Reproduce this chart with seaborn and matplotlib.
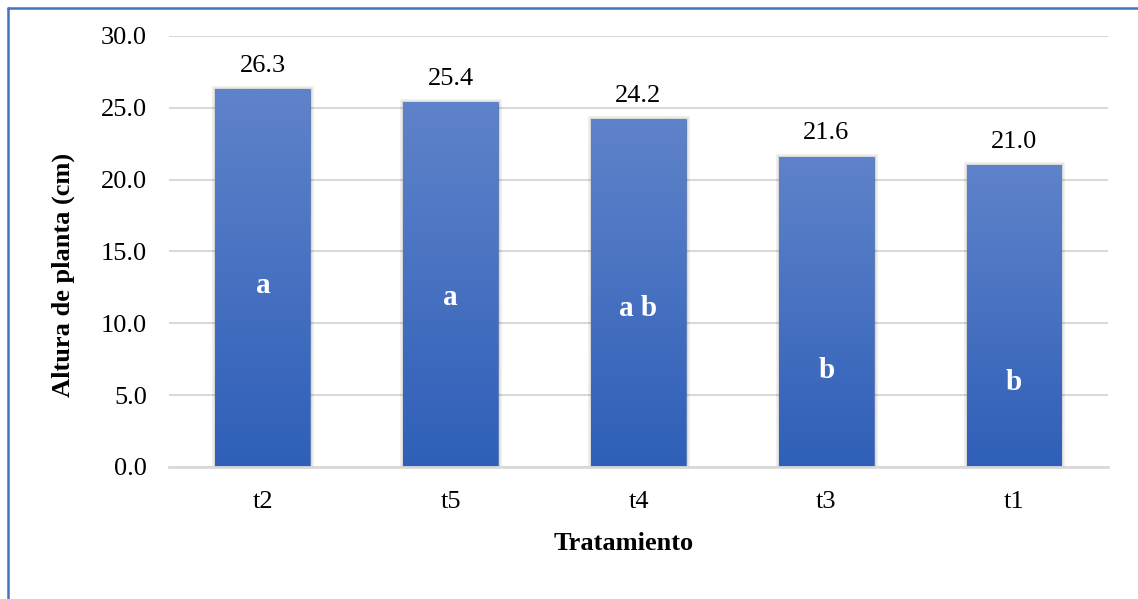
import numpy as np
import pandas as pd
import matplotlib
matplotlib.use("Agg")
import matplotlib.pyplot as plt
import matplotlib.patheffects as pe
from matplotlib.colors import LinearSegmentedColormap
from matplotlib.lines import Line2D
import seaborn as sns

# Plant height by treatment, with significance groups
tratamientos = ["t2", "t5", "t4", "t3", "t1"]
altura = [26.3, 25.4, 24.2, 21.6, 21.0]
grupos = ["a", "a", "a b", "b", "b"]
grupo_y = [12.6, 11.8, 11.0, 6.7, 5.9]
yticks = [0, 5, 10, 15, 20, 25, 30]

df = pd.DataFrame({"Tratamiento": tratamientos, "Altura": altura})

sns.set_theme(style="white")
plt.rcParams["font.family"] = ["Liberation Serif", "DejaVu Serif"]

fig = plt.figure(figsize=(11.38, 5.99), dpi=100)
ax = fig.add_axes([0.1485, 0.2204, 0.9736 - 0.1485, 0.9399 - 0.2204])

sns.barplot(data=df, x="Tratamiento", y="Altura", order=tratamientos,
            color="#4472c4", width=0.505, ax=ax, saturation=1)

cmap = LinearSegmentedColormap.from_list("bluegrad", ["#2f5fb8", "#5f83ca"])
grad = np.linspace(0, 1, 256).reshape(-1, 1)
for p in ax.patches:
    p.set_edgecolor("none")
    p.set_path_effects([pe.Stroke(linewidth=5, foreground=(0, 0, 0, 0.06)),
                        pe.Stroke(linewidth=2.5, foreground=(0, 0, 0, 0.10)),
                        pe.Normal()])
    x0, y0 = p.get_x(), p.get_y()
    w, h = p.get_width(), p.get_height()
    im = ax.imshow(grad, extent=(x0, x0 + w, y0, y0 + h), origin="lower",
                   cmap=cmap, aspect="auto", zorder=p.get_zorder() + 0.1,
                   interpolation="bilinear")
    im.set_clip_path(p)

ax.set_xlim(-0.5, len(tratamientos) - 0.5)
ax.set_ylim(0, 30)
ax.set_yticks(yticks)
ax.set_yticklabels([f"{v:.1f}" for v in yticks])

ax.yaxis.grid(True, color="#d9d9d9", linewidth=1.5)
ax.set_axisbelow(True)
for s in ["top", "right", "left"]:
    ax.spines[s].set_visible(False)
ax.spines["bottom"].set_color("#d9d9d9")
ax.spines["bottom"].set_linewidth(2)

ax.tick_params(axis="y", length=0, pad=16, labelsize=19, labelcolor="black")
ax.tick_params(axis="x", length=0, pad=17, labelsize=19, labelcolor="black")

ax.set_xlabel("Tratamiento", fontsize=19, fontweight="bold", color="black")
ax.set_ylabel("Altura de planta (cm)", fontsize=19, fontweight="bold", color="black")
ax.xaxis.set_label_coords(0.4846, -0.150)
ax.yaxis.set_label_coords(-0.100, 0.445)

for i, (v, g, gy) in enumerate(zip(altura, grupos, grupo_y)):
    ax.annotate(f"{v:.1f}", (i, v), xytext=(0, 9), textcoords="offset points",
                ha="center", va="bottom", fontsize=19, color="black")
    ax.text(i, gy, g, ha="center", va="center", fontsize=21,
            fontweight="bold", color="white", zorder=10)

# Chart frame (left and top edges)
fig.add_artist(Line2D([8 / 1138, 8 / 1138], [0, 1 - 8 / 599],
                      transform=fig.transFigure, color="#4472c4", linewidth=1.8))
fig.add_artist(Line2D([8 / 1138, 1], [1 - 8 / 599, 1 - 8 / 599],
                      transform=fig.transFigure, color="#4472c4", linewidth=1.8))

fig.savefig("out.png", dpi=100)
